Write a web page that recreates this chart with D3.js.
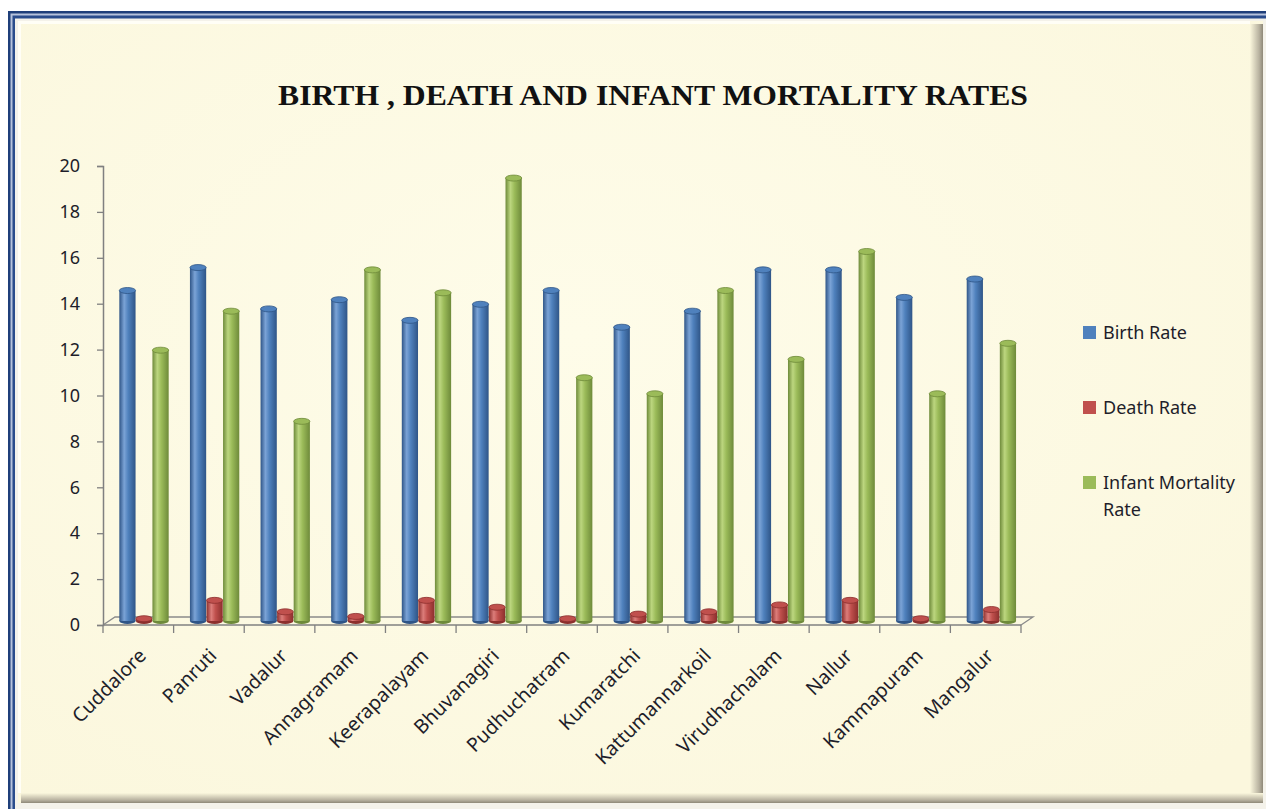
<!DOCTYPE html>
<html>
<head>
<meta charset="utf-8">
<script src="https://cdn.jsdelivr.net/npm/d3@7"></script>
<style>
  body { margin: 0; background: #fff; }
  svg { display: block; }
</style>
</head>
<body>
<div id="chart"></div>
<script>
// chart data
const categories = ["Cuddalore", "Panruti", "Vadalur", "Annagramam", "Keerapalayam", "Bhuvanagiri",
  "Pudhuchatram", "Kumaratchi", "Kattumannarkoil", "Virudhachalam", "Nallur", "Kammapuram", "Mangalur"];
const seriesNames = ["Birth Rate", "Death Rate", "Infant Mortality Rate"];
const birthRate = [14.4, 15.4, 13.6, 14.0, 13.1, 13.8, 14.4, 12.8, 13.5, 15.3, 15.3, 14.1, 14.9];
const deathRate = [0.1, 0.9, 0.4, 0.2, 0.9, 0.6, 0.1, 0.3, 0.4, 0.7, 0.9, 0.1, 0.5];
const infantMortality = [11.8, 13.5, 8.7, 15.3, 14.3, 19.3, 10.6, 9.9, 14.4, 11.4, 16.1, 9.9, 12.1];
const yTicks = [0, 2, 4, 6, 8, 10, 12, 14, 16, 18, 20];

const seriesValues = [birthRate, deathRate, infantMortality];
const colors = ["#4f81bd", "#c0504d", "#9bbb59"];
const darkColors = ["#2f5587", "#8c2f2d", "#6e8a3a"];
const lightColors = ["#7ba3d6", "#dc7d7a", "#bcd67f"];

const W = 1266, H = 809;
// 3D depth offsets of the floor
const depthX = 12, depthY = -8;
const labelFont = "'Noto Sans', 'Open Sans', sans-serif";

const svg = d3.select("#chart").append("svg")
  .attr("width", W)
  .attr("height", H);

const defs = svg.append("defs");

// paper background
const bg = defs.append("radialGradient").attr("id", "paper")
  .attr("cx", "45%").attr("cy", "40%").attr("r", "75%");
bg.append("stop").attr("offset", "0%").attr("stop-color", "#fefce9");
bg.append("stop").attr("offset", "100%").attr("stop-color", "#fbf7dd");

// cylinder gradients
colors.forEach((c, i) => {
  const g = defs.append("linearGradient").attr("id", "cyl" + i)
    .attr("x1", "0%").attr("x2", "100%").attr("y1", "0%").attr("y2", "0%");
  g.append("stop").attr("offset", "0%").attr("stop-color", darkColors[i]);
  g.append("stop").attr("offset", "30%").attr("stop-color", lightColors[i]);
  g.append("stop").attr("offset", "55%").attr("stop-color", c);
  g.append("stop").attr("offset", "100%").attr("stop-color", darkColors[i]);
});

// shadows on panel edges
const shR = defs.append("linearGradient").attr("id", "shR").attr("x1", "0%").attr("x2", "100%");
shR.append("stop").attr("offset", "0%").attr("stop-color", "#fbf7dd");
shR.append("stop").attr("offset", "70%").attr("stop-color", "#b8b2a0");
shR.append("stop").attr("offset", "100%").attr("stop-color", "#8e8878");
const shB = defs.append("linearGradient").attr("id", "shB").attr("x1", "0%").attr("x2", "0%").attr("y1", "0%").attr("y2", "100%");
shB.append("stop").attr("offset", "0%").attr("stop-color", "#fbf7dd");
shB.append("stop").attr("offset", "70%").attr("stop-color", "#b8b2a0");
shB.append("stop").attr("offset", "100%").attr("stop-color", "#8e8878");

// ****************** frame ***************************
svg.append("rect").attr("x", 8).attr("y", 11).attr("width", W).attr("height", H)
  .attr("fill", "#1f3f7a");
svg.append("rect").attr("x", 10.5).attr("y", 13.5).attr("width", W).attr("height", H)
  .attr("fill", "#b7c3dc");
svg.append("rect").attr("x", 12.5).attr("y", 15.5).attr("width", W).attr("height", H)
  .attr("fill", "#2a4c8c");
svg.append("rect").attr("x", 15).attr("y", 18.5).attr("width", W).attr("height", H)
  .attr("fill", "#f4f2ea");
svg.append("rect").attr("x", 18).attr("y", 21).attr("width", 1245).attr("height", 782)
  .attr("fill", "url(#paper)");
svg.append("rect").attr("x", 1250).attr("y", 24).attr("width", 13).attr("height", 779)
  .attr("fill", "url(#shR)");
svg.append("rect").attr("x", 21).attr("y", 793).attr("width", 1242).attr("height", 10)
  .attr("fill", "url(#shB)");
svg.append("rect").attr("x", 18).attr("y", 21).attr("width", 1232).attr("height", 3)
  .attr("fill", "#fffef6");
svg.append("rect").attr("x", 18).attr("y", 21).attr("width", 3).attr("height", 772)
  .attr("fill", "#fffef6");

// ****************** title ***************************
svg.append("text")
  .attr("x", 653).attr("y", 105)
  .attr("text-anchor", "middle")
  .attr("font-family", "'Liberation Serif', 'Times New Roman', serif")
  .attr("font-weight", "bold")
  .attr("font-size", 29)
  .attr("textLength", 750)
  .attr("lengthAdjust", "spacingAndGlyphs")
  .attr("fill", "#111")
  .text("BIRTH , DEATH AND INFANT MORTALITY RATES");

// ****************** scales ***************************
const y = d3.scaleLinear().domain([0, 20]).range([625, 166]);
const x = d3.scaleBand().domain(categories).range([103, 1021]).padding(0);
const xs = d3.scaleBand().domain(seriesNames).range([10, 60]).padding(0.02);

// floor
const x0 = x.range()[0], x1 = x.range()[1], yb = y(0);
svg.append("path")
  .attr("d", `M${x0},${yb} L${x0 + depthX},${yb + depthY} L${x1 + depthX},${yb + depthY} L${x1},${yb}`)
  .attr("fill", "none").attr("stroke", "#8a8a8a").attr("stroke-width", 1.3);

// y axis
const yAxis = svg.append("g").attr("transform", `translate(${x0},0)`)
  .call(d3.axisLeft(y).tickValues(yTicks).tickSize(6).tickPadding(17));
yAxis.select(".domain").attr("stroke", "#808080").attr("stroke-width", 1.5);
yAxis.selectAll(".tick line").attr("stroke", "#808080").attr("stroke-width", 1.3);
yAxis.selectAll(".tick text")
  .attr("font-family", labelFont)
  .attr("font-size", 18).attr("fill", "#1e1e2a");

// x axis
const xAxis = svg.append("g").attr("transform", `translate(0,${yb})`);
xAxis.append("line").attr("x1", x0).attr("x2", x1).attr("stroke", "#808080").attr("stroke-width", 1.5);
xAxis.selectAll("line.tk")
  .data(categories.concat(["end"]))
  .join("line").attr("class", "tk")
  .attr("x1", (d, i) => x0 + i * x.step()).attr("x2", (d, i) => x0 + i * x.step())
  .attr("y1", 0).attr("y2", 8)
  .attr("stroke", "#808080").attr("stroke-width", 1.3);
xAxis.selectAll("text")
  .data(categories)
  .join("text")
  .attr("transform", d => `translate(${x(d) + x.bandwidth() / 2 + 9},${32}) rotate(-45)`)
  .attr("text-anchor", "end")
  .attr("font-family", labelFont)
  .attr("font-size", 19.5).attr("fill", "#1e1e2a")
  .text(d => d);

// ****************** bars ***************************
const barOffX = depthX / 2, barOffY = depthY / 2;
const rows = [];
categories.forEach((c, ci) => {
  seriesNames.forEach((s, si) => {
    rows.push({ cat: c, series: s, si: si, value: seriesValues[si][ci] });
  });
});

const bar = svg.append("g").selectAll("g.bar")
  .data(rows)
  .join("g").attr("class", "bar")
  .attr("transform", d => `translate(${x(d.cat) + xs(d.series) + barOffX},${barOffY})`);

const bw = xs.bandwidth();
const ry = 3;
bar.append("ellipse")
  .attr("cx", bw / 2).attr("cy", yb).attr("rx", bw / 2).attr("ry", ry)
  .attr("fill", d => darkColors[d.si]);
bar.append("rect")
  .attr("x", 0).attr("width", bw)
  .attr("y", d => y(d.value)).attr("height", d => yb - y(d.value))
  .attr("fill", d => `url(#cyl${d.si})`);
bar.append("ellipse")
  .attr("cx", bw / 2).attr("cy", d => y(d.value)).attr("rx", bw / 2).attr("ry", ry)
  .attr("fill", d => colors[d.si])
  .attr("stroke", d => darkColors[d.si]).attr("stroke-width", 0.8);

// ****************** legend ***************************
const legendY = [333, 408, 483];
const legend = svg.append("g").selectAll("g")
  .data(seriesNames)
  .join("g")
  .attr("transform", (d, i) => `translate(1083,${legendY[i]})`);
legend.append("rect").attr("x", 0).attr("y", -7).attr("width", 13).attr("height", 13)
  .attr("fill", (d, i) => colors[i]);
legend.append("text")
  .attr("x", 20).attr("y", 6)
  .attr("font-family", labelFont)
  .attr("font-size", 18).attr("fill", "#1e1e2a")
  .each(function (d) {
    const t = d3.select(this);
    const parts = d === "Infant Mortality Rate" ? ["Infant Mortality", "Rate"] : [d];
    parts.forEach((p, k) => t.append("tspan").attr("x", 20).attr("dy", k ? 27 : 0).text(p));
  });
</script>
</body>
</html>
